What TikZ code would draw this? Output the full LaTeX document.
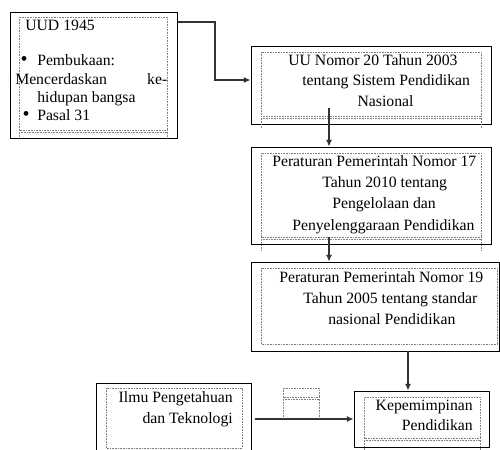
\documentclass[tikz,border=0pt]{standalone}
\usepackage{fontspec}
\setmainfont{Liberation Serif}
\usetikzlibrary{arrows.meta,fit}

\tikzset{
  box/.style={draw, line width=0.75pt, inner sep=0pt},
  inner/.style={draw=gray, line width=0.5pt, dash pattern=on 0.6pt off 0.6pt},
  txt/.style={inner sep=0pt, align=left, font=\fontsize{11.8}{15.75}\selectfont},
  arr/.style={draw=black!80, line width=0.8pt, -{Latex[length=5pt,width=4.5pt]}},
}

% bingkai titik-titik: x1, y1, x2, y2, ujung garis tegak
\newcommand{\dotframe}[5]{%
  \draw[inner] (#1,#2) rectangle (#3,#4);
  \draw[inner] (#1,{#4+2}) -- (#3,{#4+2});
  \draw[inner] (#1,#4) -- (#1,#5) (#3,#4) -- (#3,#5);
}
\newcommand{\butir}{{\fontsize{15}{15}\selectfont\textbullet}}

\begin{document}
\begin{tikzpicture}[x=0.75pt, y=-0.75pt]

    \useasboundingbox (0,0) rectangle (500,450);
    \clip (0,0) rectangle (500,450);

    % kotak luar
    \node[box, fit={(10,12) (177,138)}] (uud) {};
    \node[box, fit={(251,46) (491,124)}] (uu) {};
    \node[box, fit={(251,147) (491,244)}] (pp17) {};
    \node[box, fit={(251,262) (499,351)}] (pp19) {};
    \node[box, fit={(96,383) (251,465)}] (iptek) {};
    \node[box, fit={(354,391) (489,447)}] (pimpin) {};

    % bingkai titik-titik di dalam kotak
    \dotframe{19}{17}{167}{130}{138}
    \dotframe{261}{52}{481}{116}{128}
    \dotframe{261}{153}{481}{237}{250}
    \draw[inner] (261,268) rectangle (497,344);
    \draw[inner] (106,388) rectangle (242,448);
    \dotframe{364}{397}{480}{438}{450}
    \dotframe{283}{388}{319}{397}{420}

    % teks
    \node[txt, anchor=north west, font=\fontsize{11.8}{13.8}\selectfont] (uudtxt) at (15,20)
        {\hspace*{7.5pt}UUD 1945\\[12.5pt]
         \makebox[16.5pt][l]{\hspace*{4pt}\butir}Pembukaan:\\
         \makebox[114pt][l]{Mencerdaskan\hfill ke-}\\
         \hspace*{16.5pt}hidupan bangsa\\
         \makebox[16.5pt][l]{\hspace*{5.5pt}\butir}Pasal 31};
    \node[txt, anchor=north west, font=\fontsize{11.8}{15.4}\selectfont] (uutxt) at (288,54)
        {UU Nomor 20 Tahun 2003\\
         \hspace*{10.5pt}tentang Sistem Pendidikan\\
         \hspace*{52pt}Nasional};
    \node[txt, anchor=north west, font=\fontsize{11.8}{16}\selectfont] (pp17txt) at (272,155)
        {Peraturan Pemerintah Nomor 17\\
         \hspace*{37.5pt}Tahun 2010 tentang\\
         \hspace*{45pt}Pengelolaan dan\\
         \hspace*{15pt}Penyelenggaraan Pendidikan};
    \node[txt, anchor=north west] (pp19txt) at (279,271)
        {Peraturan Pemerintah Nomor 19\\
         \hspace*{18pt}Tahun 2005 tentang standar\\
         \hspace*{36.75pt}nasional Pendidikan};
    \node[txt, anchor=north east, align=right] (ipteknama) at (233,391)
        {Ilmu Pengetahuan\\dan Teknologi};
    \node[txt, anchor=north east, align=right, font=\fontsize{11.8}{15}\selectfont] (pimpintxt) at (473,400)
        {Kepemimpinan\\Pendidikan};

    % panah
    \coordinate (bend1) at (215,22);
    \coordinate (bend2) at (215,80);
    \draw[arr] (uud.east |- bend1) -- (bend1) -- (bend2) -- (uu.west |- bend2);

    \coordinate (uuout) at (329,108);
    \draw[arr] (uuout) -- (uuout |- pp17.north);

    \coordinate (pp17out) at (329,237);
    \draw[arr] (pp17out) -- (pp17out |- pp19.north);

    \coordinate (pp19out) at (408,351);
    \draw[arr] (pp19out) -- (pp19out |- pimpin.north);

    \draw[arr] ([xshift=2.25pt]iptek.east |- pimpin.west) -- (pimpin.west);

\end{tikzpicture}
\end{document}
